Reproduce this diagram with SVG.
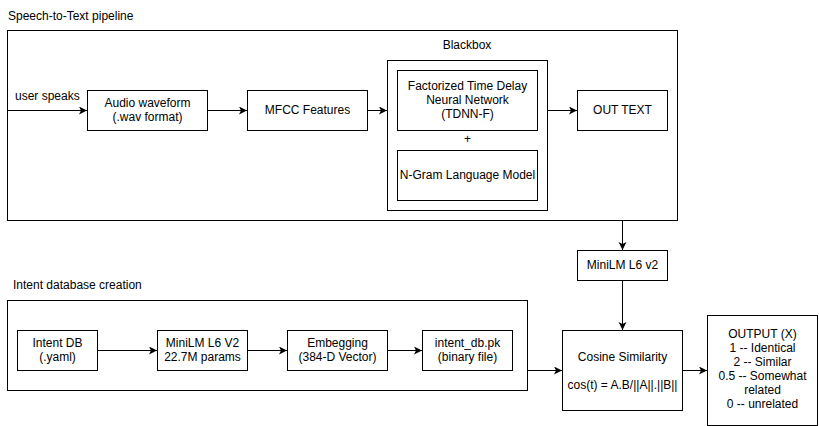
<svg xmlns="http://www.w3.org/2000/svg" width="819" height="426" viewBox="0 0 819 426">
<style>
text{font-family:"Liberation Sans",Arial,sans-serif;font-size:12px;fill:#000}
.c{text-anchor:middle}
.b{fill:#fff;stroke:#000;stroke-width:1}
.e{fill:none;stroke:#000;stroke-width:1}
</style>
<defs>
<marker id="a" markerWidth="10" markerHeight="10" refX="8" refY="4" orient="auto" markerUnits="userSpaceOnUse">
<path d="M0,0 L8,4 L0,8 L2,4 z" fill="#000"/>
</marker>
</defs>
<rect width="819" height="426" fill="#fff"/>
<g id="stt-group">
<text x="8" y="20">Speech-to-Text pipeline</text>
<rect class="b" x="7.5" y="30.5" width="670" height="190"/>
</g>
<g id="blackbox">
<text class="c" x="467" y="49">Blackbox</text>
<rect class="b" x="387.5" y="60.5" width="160" height="150"/>
</g>
<g id="intent-group">
<text x="13" y="289">Intent database creation</text>
<rect class="b" x="7.5" y="300.5" width="520" height="90"/>
</g>
<g id="connectors">
<path class="e" d="M8,110.5 H87" marker-end="url(#a)"/>
<path class="e" d="M207,110.5 H247" marker-end="url(#a)"/>
<path class="e" d="M367,110.5 H387" marker-end="url(#a)"/>
<path class="e" d="M548,110.5 H577" marker-end="url(#a)"/>
<path class="e" d="M622.5,221 V250" marker-end="url(#a)"/>
<path class="e" d="M622.5,280 V330" marker-end="url(#a)"/>
<path class="e" d="M97,350.5 H157" marker-end="url(#a)"/>
<path class="e" d="M247,350.5 H287" marker-end="url(#a)"/>
<path class="e" d="M387,350.5 H422" marker-end="url(#a)"/>
<path class="e" d="M528,370.5 H562" marker-end="url(#a)"/>
<path class="e" d="M682,370.5 H707" marker-end="url(#a)"/>
</g>
<g id="user-speaks"><text x="15" y="100">user speaks</text></g>
<g id="audio">
<rect class="b" x="87.5" y="90.5" width="120" height="40"/>
<text class="c" x="147.5" y="107">Audio waveform</text>
<text class="c" x="147.5" y="121">(.wav format)</text>
</g>
<g id="mfcc">
<rect class="b" x="247.5" y="90.5" width="120" height="40"/>
<text class="c" x="307.5" y="114">MFCC Features</text>
</g>
<g id="tdnn">
<rect class="b" x="397.5" y="70.5" width="140" height="60"/>
<text class="c" x="467.5" y="90">Factorized Time Delay</text>
<text class="c" x="467.5" y="104">Neural Network</text>
<text class="c" x="467.5" y="118">(TDNN-F)</text>
</g>
<g id="plus"><text class="c" x="467.5" y="143">+</text></g>
<g id="ngram">
<rect class="b" x="397.5" y="150.5" width="140" height="50"/>
<text class="c" x="467.5" y="179">N-Gram Language Model</text>
</g>
<g id="out-text">
<rect class="b" x="577.5" y="90.5" width="90" height="40"/>
<text class="c" x="622.5" y="114">OUT TEXT</text>
</g>
<g id="minilm-v2-top">
<rect class="b" x="577.5" y="250.5" width="90" height="30"/>
<text class="c" x="622.5" y="269">MiniLM L6 v2</text>
</g>
<g id="cosine">
<rect class="b" x="562.5" y="330.5" width="120" height="80"/>
<text class="c" x="622.5" y="361">Cosine Similarity</text>
<text class="c" x="622.5" y="389">cos(t) = A.B/||A||.||B||</text>
</g>
<g id="output">
<rect class="b" x="707.5" y="315.5" width="110" height="110"/>
<text class="c" x="762.5" y="338">OUTPUT (X)</text>
<text class="c" x="762.5" y="352">1 -- Identical</text>
<text class="c" x="762.5" y="366">2 -- Similar</text>
<text class="c" x="762.5" y="380">0.5 -- Somewhat</text>
<text class="c" x="762.5" y="394">related</text>
<text class="c" x="762.5" y="408">0 -- unrelated</text>
</g>
<g id="intent-db">
<rect class="b" x="17.5" y="330.5" width="80" height="40"/>
<text class="c" x="57.5" y="347">Intent DB</text>
<text class="c" x="57.5" y="361">(.yaml)</text>
</g>
<g id="minilm-v2">
<rect class="b" x="157.5" y="330.5" width="90" height="40"/>
<text class="c" x="202.5" y="347">MiniLM L6 V2</text>
<text class="c" x="202.5" y="361">22.7M params</text>
</g>
<g id="embegging">
<rect class="b" x="287.5" y="330.5" width="100" height="40"/>
<text class="c" x="337.5" y="347">Embegging</text>
<text class="c" x="337.5" y="361">(384-D Vector)</text>
</g>
<g id="intent-pk">
<rect class="b" x="422.5" y="330.5" width="90" height="40"/>
<text class="c" x="467.5" y="347">intent_db.pk</text>
<text class="c" x="467.5" y="361">(binary file)</text>
</g>
</svg>
